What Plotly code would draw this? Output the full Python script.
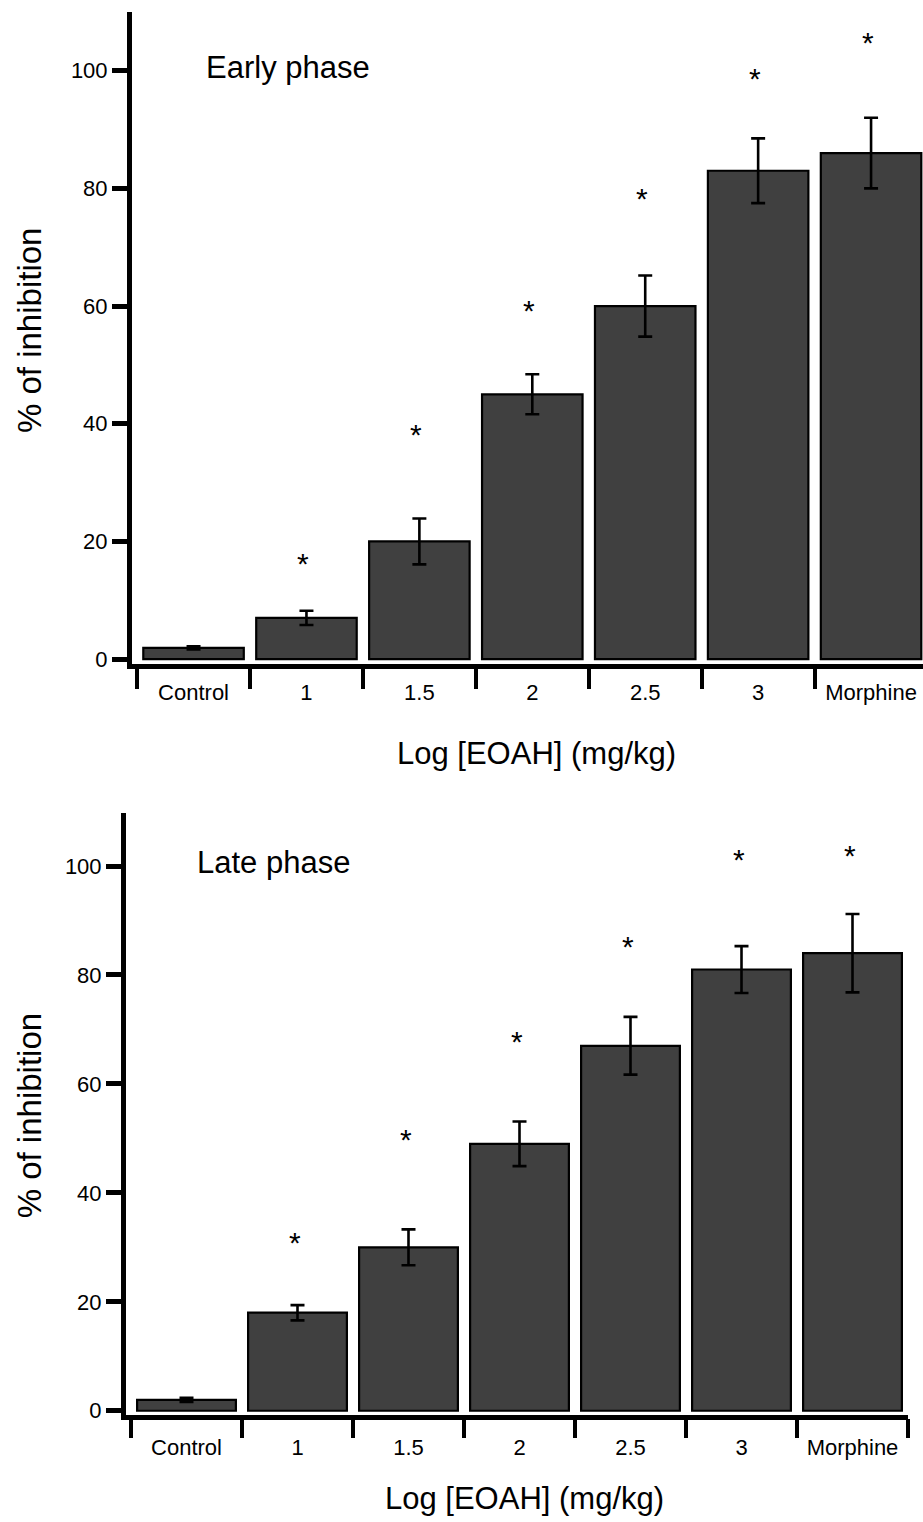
import plotly.graph_objects as go

W, H = 923, 1522

categories = ["Control", "1", "1.5", "2", "2.5", "3", "Morphine"]

early_values = [1.9, 7.0, 20.0, 45.0, 60.0, 83.0, 86.0]
early_errors = [0.25, 1.2, 3.9, 3.4, 5.2, 5.5, 6.0]
early_stars = [None, 17.4, 39.4, 60.5, 79.4, 99.8, 106.0]

late_values = [2.0, 18.0, 30.0, 49.0, 67.0, 81.0, 84.0]
late_errors = [0.4, 1.4, 3.3, 4.1, 5.3, 4.3, 7.2]
late_stars = [None, 32.1, 51.1, 69.0, 86.5, 102.4, 103.3]

y_ticks = [0, 20, 40, 60, 80, 100]

FONT = "Liberation Sans, Arial, sans-serif"
BAR = "rgb(64,64,64)"

def px(x):
    return x / W

def py(y):
    return 1 - y / H

fig = go.Figure()

for vals, errs, xa, ya in [(early_values, early_errors, "x", "y"),
                           (late_values, late_errors, "x2", "y2")]:
    fig.add_trace(go.Bar(
        x=categories, y=vals, xaxis=xa, yaxis=ya,
        marker=dict(color=BAR, line=dict(color="black", width=2.2)),
        error_y=dict(type="data", array=errs, color="black", thickness=2.6, width=7),
        width=0.89, showlegend=False,
    ))

axis_common = dict(showline=True, linecolor="black", ticks="outside",
                   tickcolor="black", showgrid=False, zeroline=False,
                   tickfont=dict(family=FONT, size=22, color="black"))

fig.update_layout(
    width=W, height=H,
    margin=dict(l=0, r=0, t=0, b=0),
    paper_bgcolor="white", plot_bgcolor="white",
    font=dict(family=FONT, color="black"),
    xaxis=dict(domain=[px(132), 1.0], anchor="y", type="category",
               categoryorder="array", categoryarray=categories,
               range=[-0.545, 6.46], tickson="boundaries", ticklen=20,
               tickwidth=4, linewidth=4.5, ticklabelstandoff=5, **axis_common),
    yaxis=dict(domain=[py(668), py(12)], anchor="x", range=[-0.85, 110],
               tickvals=y_ticks, ticklen=15, tickwidth=5, linewidth=5,
               **axis_common),
    xaxis2=dict(domain=[px(126), px(908)], anchor="y2", type="category",
                categoryorder="array", categoryarray=categories,
                range=[-0.545, 6.5], tickson="boundaries", ticklen=19,
                tickwidth=4, linewidth=4.5, ticklabelstandoff=9, **axis_common),
    yaxis2=dict(domain=[py(1423), py(818)], anchor="x2", range=[-0.7, 109.7],
                tickvals=y_ticks, ticklen=15, tickwidth=5, linewidth=5,
                **axis_common),
)

ann = []
for stars, xr, yr in [(early_stars, "x", "y"), (late_stars, "x2", "y2")]:
    for i, s in enumerate(stars):
        if s is None:
            continue
        ann.append(dict(x=i, y=s, xref=xr, yref=yr, text="*", showarrow=False,
                        xanchor="center", yanchor="middle", xshift=-3, yshift=-7,
                        font=dict(family=FONT, size=30, color="black")))

# panel labels
ann.append(dict(x=px(204), y=py(68), xref="paper", yref="paper", text="Early phase",
                showarrow=False, xanchor="left", yanchor="middle",
                font=dict(family=FONT, size=31, color="black")))
ann.append(dict(x=px(195), y=py(868), xref="paper", yref="paper", text="Late phase",
                showarrow=False, xanchor="left", yanchor="middle",
                font=dict(family=FONT, size=31, color="black")))

# axis titles
for xc, yc in [(536, 758), (524, 1507)]:
    ann.append(dict(x=px(xc), y=py(yc), xref="paper", yref="paper",
                    text="Log [EOAH] (mg/kg)", showarrow=False,
                    xanchor="center", yanchor="middle",
                    font=dict(family=FONT, size=31, color="black")))
for xc, yc in [(29, 333), (29, 1123)]:
    ann.append(dict(x=px(xc), y=py(yc), xref="paper", yref="paper",
                    text="% of inhibition", showarrow=False, textangle=-90,
                    xanchor="center", yanchor="middle",
                    font=dict(family=FONT, size=33, color="black")))

fig.update_layout(annotations=ann)

fig.write_html("out.html")
